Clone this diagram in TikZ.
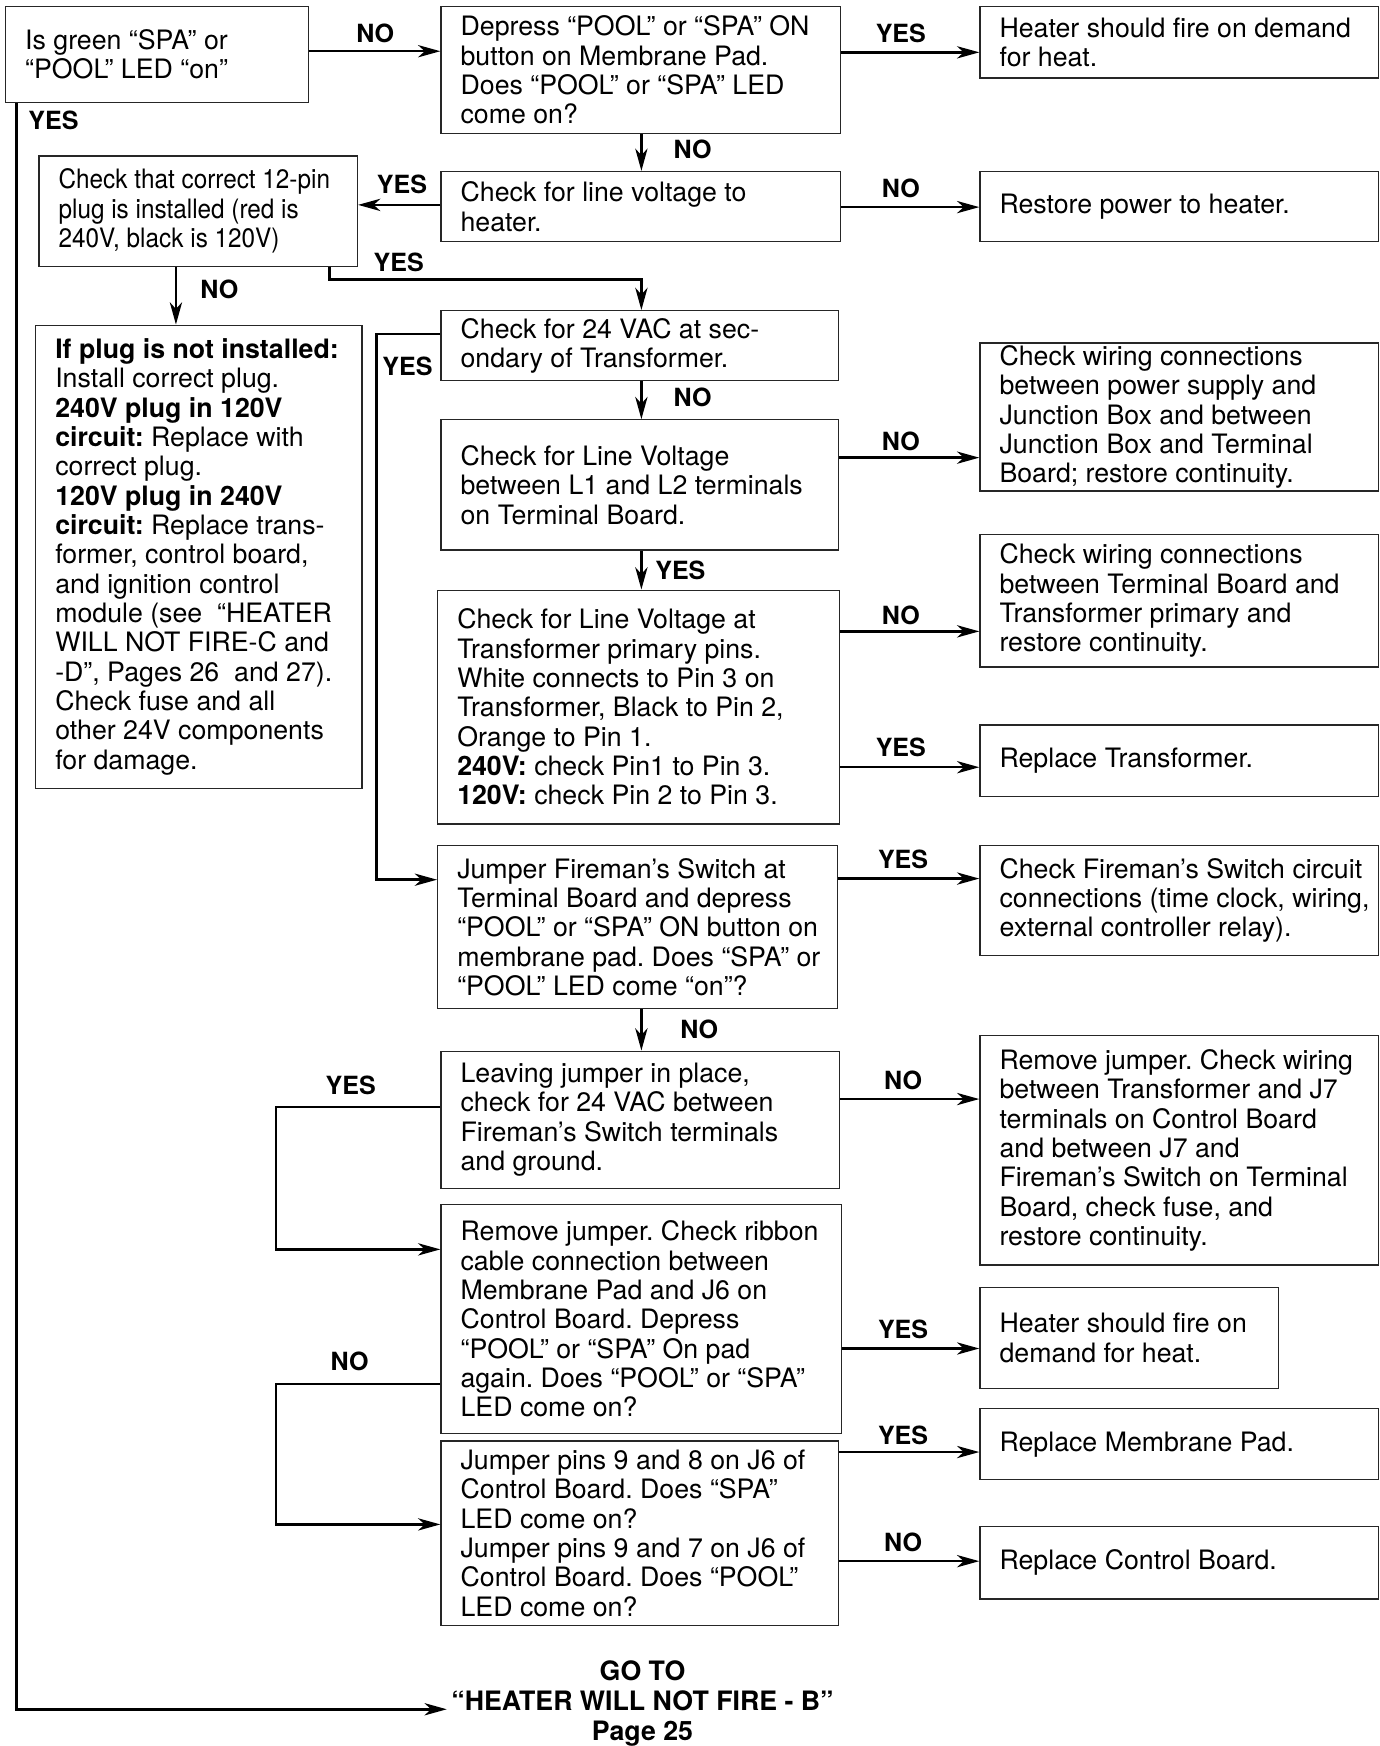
\documentclass[tikz,border=0pt]{standalone}
\usepackage{fontspec}
\setmainfont{TeX Gyre Heros}
\newfontfamily\narrowfont[FakeStretch=0.91]{TeX Gyre Heros}
\usetikzlibrary{arrows.meta,fit}
\frenchspacing
\tikzset{
  boxst/.style={draw=black!85, line width=1.1pt, inner sep=0pt},
  txt/.style={anchor=west, align=left, inner sep=0pt, font=\frenchspacing\fontsize{24}{26.35}\selectfont},
  lbl/.style={inner sep=0pt, font=\bfseries\fontsize{22.5}{24}\selectfont},
  arr/.style={draw, line width=2.2pt, -{Stealth[length=20pt,width=11pt,inset=6pt]}}
}
\newcommand{\flowbox}[6]{%
  \node[boxst, fit={(#2,#3) (#4,#5)}] (#1) {};
  \node[txt] (#1t) at ([xshift=18pt]#1.west) {#6};
}
\begin{document}
\begin{tikzpicture}[x=1pt,y=-1pt]
\useasboundingbox[fill=white] (0,0) rectangle (1239,1568);

\flowbox{b1}{5}{6}{277}{92}{Is green “SPA” or\\“POOL” LED “on”}
\flowbox{b2}{396}{6}{755}{120}{Depress “POOL” or “SPA” ON\\button on Membrane Pad.\\Does “POOL” or “SPA” LED\\come on?}
\flowbox{b3}{880}{6}{1238}{70}{Heater should fire on demand\\for heat.}
\flowbox{b4}{396}{154}{755}{217}{Check for line voltage to\\heater.}
\flowbox{b5}{880}{154}{1238}{217}{Restore power to heater.}
\node[boxst, fit={(35,140) (321,239)}] (b6) {};
\node[txt, font=\narrowfont\frenchspacing\fontsize{24}{26.35}\selectfont] (b6t) at ([xshift=18pt]b6.west) {Check that correct 12-pin\\plug is installed (red is\\240V, black is 120V)};
\flowbox{b7}{32}{292}{325}{708}{\textbf{If plug is not installed:}\\Install correct plug.\\\textbf{240V plug in 120V}\\\textbf{circuit:} Replace with\\correct plug.\\\textbf{120V plug in 240V}\\\textbf{circuit:} Replace trans-\\former, control board,\\and ignition control\\module (see~ “HEATER\\WILL NOT FIRE-C and\\-D”, Pages 26~ and 27).\\Check fuse and all\\other 24V components\\for damage.}
\flowbox{b8}{396}{279}{753}{342}{Check for 24 VAC at sec-\\ondary of Transformer.}
\flowbox{b9}{396}{377}{753}{494}{Check for Line Voltage\\between L1 and L2 terminals\\on Terminal Board.}
\flowbox{b10}{880}{308}{1238}{441}{Check wiring connections\\between power supply and\\Junction Box and between\\Junction Box and Terminal\\Board; restore continuity.}
\flowbox{b11}{393}{530}{754}{740}{Check for Line Voltage at\\Transformer primary pins.\\White connects to Pin 3 on\\Transformer, Black to Pin 2,\\Orange to Pin 1.\\\textbf{240V:} check Pin1 to Pin 3.\\\textbf{120V:} check Pin 2 to Pin 3.}
\flowbox{b13}{880}{480}{1238}{599}{Check wiring connections\\between Terminal Board and\\Transformer primary and\\restore continuity.}
\flowbox{b14}{880}{651}{1238}{715}{Replace Transformer.}
\flowbox{b12}{393}{759}{752}{906}{Jumper Fireman’s Switch at\\Terminal Board and depress\\“POOL” or “SPA” ON button on\\membrane pad. Does “SPA” or\\“POOL” LED come “on”?}
\flowbox{b15}{880}{759}{1238}{858}{Check Fireman’s Switch circuit\\connections (time clock, wiring,\\external controller relay).}
\flowbox{b16}{396}{944}{754}{1067}{Leaving jumper in place,\\check for 24 VAC between\\Fireman’s Switch terminals\\and ground.}
\flowbox{b17}{880}{930}{1238}{1136}{Remove jumper. Check wiring\\between Transformer and J7\\terminals on Control Board\\and between J7 and\\Fireman’s Switch on Terminal\\Board, check fuse, and\\restore continuity.}
\flowbox{b18}{396}{1082}{756}{1287}{Remove jumper. Check ribbon\\cable connection between\\Membrane Pad and J6 on\\Control Board. Depress\\“POOL” or “SPA” On pad\\again. Does “POOL” or “SPA”\\LED come on?}
\flowbox{b19}{880}{1156}{1148}{1247}{Heater should fire on\\demand for heat.}
\flowbox{b20}{396}{1294}{753}{1460}{Jumper pins 9 and 8 on J6 of\\Control Board. Does “SPA”\\LED come on?\\Jumper pins 9 and 7 on J6 of\\Control Board. Does “POOL”\\LED come on?}
\flowbox{b21}{880}{1265}{1238}{1329}{Replace Membrane Pad.}
\flowbox{b22}{880}{1371}{1238}{1436}{Replace Control Board.}

\node[align=center, inner xsep=4pt, inner ysep=0pt, font=\bfseries\fontsize{24}{27}\selectfont] (goto) at (577,1530) {GO TO\\“HEATER WILL NOT FIRE - B”\\Page 25};

% labels
\node[lbl] (l1) at (337,30) {NO};
\node[lbl] (l2) at (48,108) {YES};
\node[lbl] (l3) at (809,30) {YES};
\node[lbl] (l4) at (622,134) {NO};
\node[lbl] (l5) at (809,169) {NO};
\node[lbl] (l6) at (361,166) {YES};
\node[lbl] (l7) at (358,236) {YES};
\node[lbl] (l8) at (197,260) {NO};
\node[lbl] (l9) at (366,329) {YES};
\node[lbl] (l10) at (622,357) {NO};
\node[lbl] (l11) at (809,396) {NO};
\node[lbl] (l12) at (611,512) {YES};
\node[lbl] (l13) at (809,553) {NO};
\node[lbl] (l14) at (809,671) {YES};
\node[lbl] (l15) at (811,772) {YES};
\node[lbl] (l16) at (628,924) {NO};
\node[lbl] (l17) at (811,970) {NO};
\node[lbl] (l18) at (315,975) {YES};
\node[lbl] (l19) at (811,1194) {YES};
\node[lbl] (l20) at (314,1223) {NO};
\node[lbl] (l21) at (811,1289) {YES};
\node[lbl] (l22) at (811,1385) {NO};

% connectors
\draw[arr] (b1.east |- 0,46) -- (b2.west |- 0,46);
\draw[arr] (b2.east |- 0,47) -- (b3.west |- 0,47);
\draw[arr] (576,0 |- b2.south) -- (576,0 |- b4.north);
\draw[arr] (b4.east |- 0,186) -- (b5.west |- 0,186);
\draw[arr] (b4.west |- 0,184) -- (b6.east |- 0,184);
\draw[arr] (158,0 |- b6.south) -- (158,0 |- b7.north);
\draw[arr] (296,0 |- b6.south) -- (296,251) -- (576,251) -- (576,0 |- b8.north);
\draw[arr] (b8.west |- 0,300) -- (338,300) -- (338,790) -- (b12.west |- 0,790);
\draw[arr] (576,0 |- b8.south) -- (576,0 |- b9.north);
\draw[arr] (b9.east |- 0,411) -- (b10.west |- 0,411);
\draw[arr] (576,0 |- b9.south) -- (576,0 |- b11.north);
\draw[arr] (b11.east |- 0,567) -- (b13.west |- 0,567);
\draw[arr] (b11.east |- 0,689) -- (b14.west |- 0,689);
\draw[arr] (b12.east |- 0,789) -- (b15.west |- 0,789);
\draw[arr] (576,0 |- b12.south) -- (576,0 |- b16.north);
\draw[arr] (b16.east |- 0,987) -- (b17.west |- 0,987);
\draw[arr] (b16.west |- 0,994) -- (248,994) -- (248,1122) -- (b18.west |- 0,1122);
\draw[arr] (b18.east |- 0,1211) -- (b19.west |- 0,1211);
\draw[arr] (b18.west |- 0,1243) -- (248,1243) -- (248,1369) -- (b20.west |- 0,1369);
\draw[arr] (b20.east |- 0,1304) -- (b21.west |- 0,1304);
\draw[arr] (b20.east |- 0,1402) -- (b22.west |- 0,1402);
\draw[arr] (15,0 |- b1.south) -- (15,1535) -- (goto.west |- 0,1535);
\end{tikzpicture}
\end{document}
